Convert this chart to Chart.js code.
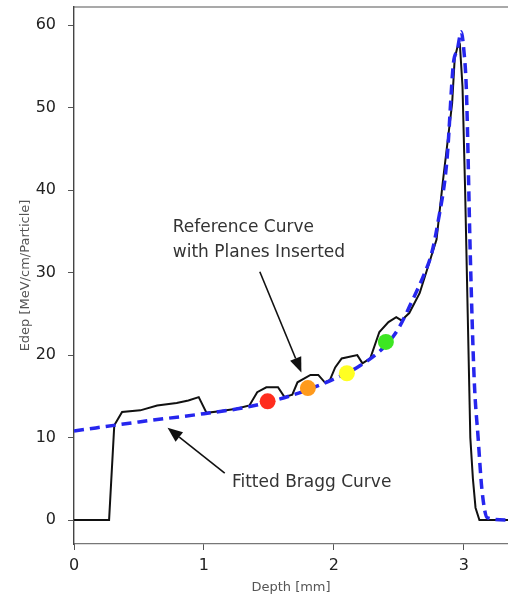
<!DOCTYPE html>
<html lang="en">
<head>
    <meta charset="UTF-8">
    <title>Bragg Curve</title>
    <script src="https://cdn.jsdelivr.net/npm/chart.js"></script>
    <style>
        html, body { margin: 0; padding: 0; background: #fff; overflow: hidden; }
        canvas { display: block; }
    </style>
</head>
<body>
    <canvas id="braggChart" width="508" height="601"></canvas>

    <script>
        // reference curve (planes inserted)
        const refDepth = [0, 0.27, 0.31, 0.37, 0.51, 0.64, 0.79, 0.88, 0.96, 1.02, 1.12, 1.25, 1.35, 1.41, 1.48, 1.57, 1.62, 1.68, 1.72, 1.82, 1.88, 1.93, 1.97, 2.01, 2.06, 2.18, 2.22, 2.28, 2.35, 2.42, 2.48, 2.52, 2.58, 2.66, 2.74, 2.79, 2.84, 2.91, 2.93, 2.95, 2.97, 2.99, 3.01, 3.03, 3.05, 3.07, 3.09, 3.12, 3.34];
        const refEdep = [0, 0, 11.5, 13.1, 13.3, 13.9, 14.2, 14.5, 14.9, 13.0, 13.2, 13.5, 13.9, 15.5, 16.1, 16.1, 14.9, 15.2, 16.7, 17.6, 17.6, 16.7, 17.0, 18.5, 19.6, 20.0, 19.0, 19.6, 22.8, 24.0, 24.6, 24.2, 25.1, 27.5, 31.5, 34.0, 41.2, 50.5, 56.0, 57.3, 57.6, 52.5, 40, 25, 10, 5, 1.5, 0, 0];

        // fitted bragg curve
        const fitDepth = [0, 0.5, 1.0, 1.3, 1.5, 1.8, 2.0, 2.2, 2.4, 2.5, 2.6, 2.7, 2.75, 2.8, 2.87, 2.92, 2.95, 2.98, 3.0, 3.02, 3.05, 3.08, 3.11, 3.14, 3.18, 3.34];
        const fitEdep = [10.8, 11.9, 12.9, 13.6, 14.3, 15.8, 17.1, 18.7, 21.2, 23.3, 26.5, 30.0, 32.2, 36.0, 43.6, 55.4, 57.0, 59.2, 57.0, 52.0, 32.0, 17.0, 10.0, 3.6, 0.3, 0];

        // plane markers
        const planeDepth = [1.49, 1.80, 2.10, 2.40];
        const planeEdep = [14.4, 16.0, 17.8, 21.6];
        const planeColors = ['#ff2d1e', '#ff9a1c', '#ffff22', '#3de622'];

        const yTicks = [0, 10, 20, 30, 40, 50, 60];
        const xTicks = [0, 1, 2, 3];

        const toPoints = (xs, ys) => xs.map((x, i) => ({ x: x, y: ys[i] }));

        // text + arrows, placed in data units
        const notes = [
            { text: 'Reference Curve', x: 0.76, y: 35.5 },
            { text: 'with Planes Inserted', x: 0.76, y: 32.4 },
            { text: 'Fitted Bragg Curve', x: 1.215, y: 4.6 }
        ];
        const arrows = [
            { from: [1.43, 30.1], to: [1.75, 17.9] },
            { from: [1.16, 5.7], to: [0.72, 11.2] }
        ];

        const annotate = {
            id: 'annotate',
            afterDatasetsDraw(chart) {
                const { ctx, scales: { x, y }, chartArea } = chart;
                ctx.save();
                // top spine
                ctx.strokeStyle = '#555';
                ctx.lineWidth = 1.2;
                ctx.beginPath();
                ctx.moveTo(chartArea.left, chartArea.top);
                ctx.lineTo(chartArea.right, chartArea.top);
                ctx.stroke();

                ctx.fillStyle = '#333';
                ctx.font = '17px "DejaVu Sans"';
                ctx.textAlign = 'left';
                ctx.textBaseline = 'middle';
                notes.forEach(n => {
                    ctx.fillText(n.text, x.getPixelForValue(n.x), y.getPixelForValue(n.y));
                });

                ctx.strokeStyle = '#111';
                ctx.fillStyle = '#111';
                ctx.lineWidth = 1.6;
                arrows.forEach(a => {
                    const x0 = x.getPixelForValue(a.from[0]), y0 = y.getPixelForValue(a.from[1]);
                    const x1 = x.getPixelForValue(a.to[0]), y1 = y.getPixelForValue(a.to[1]);
                    const ang = Math.atan2(y1 - y0, x1 - x0);
                    const head = 15, half = 6;
                    const bx = x1 - head * Math.cos(ang), by = y1 - head * Math.sin(ang);
                    ctx.beginPath();
                    ctx.moveTo(x0, y0);
                    ctx.lineTo(bx, by);
                    ctx.stroke();
                    ctx.beginPath();
                    ctx.moveTo(x1, y1);
                    ctx.lineTo(bx + half * Math.sin(ang), by - half * Math.cos(ang));
                    ctx.lineTo(bx - half * Math.sin(ang), by + half * Math.cos(ang));
                    ctx.closePath();
                    ctx.fill();
                });
                ctx.restore();
            }
        };

        const ctx = document.getElementById('braggChart').getContext('2d');
        new Chart(ctx, {
            type: 'line',
            data: {
                datasets: [
                    {
                        type: 'scatter',
                        label: 'Planes',
                        data: toPoints(planeDepth, planeEdep),
                        backgroundColor: planeColors,
                        borderColor: planeColors,
                        pointRadius: 8,
                        pointBorderWidth: 0,
                        order: 0
                    },
                    {
                        label: 'Fitted Bragg Curve',
                        data: toPoints(fitDepth, fitEdep),
                        borderColor: '#2626ee',
                        borderWidth: 3.5,
                        borderDash: [10, 6],
                        pointRadius: 0,
                        cubicInterpolationMode: 'monotone',
                        fill: false,
                        order: 1
                    },
                    {
                        label: 'Reference Curve',
                        data: toPoints(refDepth, refEdep),
                        borderColor: '#111',
                        borderWidth: 2,
                        pointRadius: 0,
                        tension: 0,
                        fill: false,
                        order: 2
                    }
                ]
            },
            options: {
                responsive: false,
                animation: false,
                layout: { autoPadding: false, padding: { top: 7, right: 0, left: 0, bottom: 0 } },
                plugins: {
                    legend: { display: false },
                    tooltip: { enabled: false }
                },
                scales: {
                    x: {
                        type: 'linear',
                        min: 0,
                        max: 3.34,
                        afterBuildTicks: s => { s.ticks = xTicks.map(v => ({ value: v })); },
                        afterFit: s => { s.height = 57; s.paddingLeft = 0; s.paddingRight = 0; },
                        ticks: {
                            color: '#222',
                            font: { family: 'DejaVu Sans', size: 16 },
                            padding: 6,
                            maxRotation: 0
                        },
                        grid: { drawOnChartArea: false, tickLength: 6, color: '#555' },
                        border: { color: '#777', width: 1.2 },
                        title: {
                            display: true,
                            text: 'Depth [mm]',
                            color: '#555',
                            font: { family: 'DejaVu Sans', size: 13 },
                            padding: 6
                        }
                    },
                    y: {
                        min: -2.9,
                        max: 62.2,
                        afterBuildTicks: s => { s.ticks = yTicks.map(v => ({ value: v })); },
                        afterFit: s => { s.width = 74; s.paddingTop = 0; s.paddingBottom = 0; },
                        ticks: {
                            color: '#222',
                            font: { family: 'DejaVu Sans', size: 16 },
                            padding: 12
                        },
                        grid: { drawOnChartArea: false, tickLength: 6, color: '#555' },
                        border: { color: '#444', width: 1.4 },
                        title: {
                            display: true,
                            text: 'Edep [MeV/cm/Particle]',
                            color: '#555',
                            font: { family: 'DejaVu Sans', size: 13 },
                            padding: { top: 18, bottom: 0 }
                        }
                    }
                }
            },
            plugins: [annotate]
        });
    </script>
</body>
</html>
